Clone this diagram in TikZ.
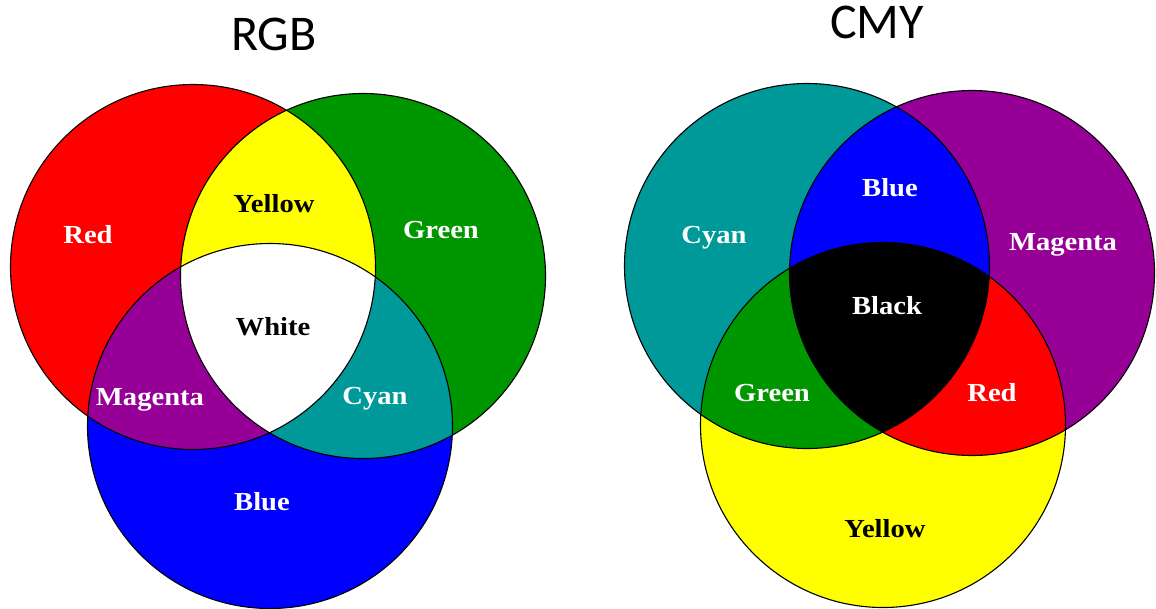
\documentclass[tikz,border=0pt]{standalone}
\usepackage{fontspec}
\setmainfont{Liberation Serif}
\newfontfamily\labelfont{Liberation Serif}[FakeStretch=1.1]
\newfontfamily\headfont{Carlito}
\usetikzlibrary{positioning}
\definecolor{pured}{RGB}{255,0,0}
\definecolor{pugreen}{RGB}{0,150,0}
\definecolor{publue}{RGB}{0,0,255}
\definecolor{puyellow}{RGB}{255,255,0}
\definecolor{pumagenta}{RGB}{150,0,150}
\definecolor{pucyan}{RGB}{0,153,153}

\begin{document}
\begin{tikzpicture}[x=1pt, y=-1pt,
  ring/.style={draw=black, line width=1.1pt},
  region/.style={font=\labelfont\bfseries\fontsize{26}{30}\selectfont, anchor=base, inner sep=0pt},
  onlight/.style={region, text=black},
  ondark/.style={region, text=white},
  heading/.style={font=\headfont\fontsize{50}{56}\selectfont, anchor=base, inner sep=0pt},
]
  \def\rad{182.5pt}
  \useasboundingbox (0,0) rectangle (1156,608);

  % centres
  \coordinate (rr) at (193,267);
  \coordinate (rg) at (363,276);
  \coordinate (rb) at (270,426);
  \coordinate (cc) at (807,266);
  \coordinate (cm) at (972,273);
  \coordinate (cy) at (883,425);

  % RGB
  \fill[pured] (rr) circle[radius=\rad];
  \fill[pugreen] (rg) circle[radius=\rad];
  \fill[publue] (rb) circle[radius=\rad];
  \begin{scope}
    \clip (rg) circle[radius=\rad];
    \fill[pucyan] (rb) circle[radius=\rad];
  \end{scope}
  \begin{scope}
    \clip (rr) circle[radius=\rad];
    \fill[puyellow] (rg) circle[radius=\rad];
    \fill[pumagenta] (rb) circle[radius=\rad];
    \clip (rg) circle[radius=\rad];
    \fill[white] (rb) circle[radius=\rad];
  \end{scope}
  \foreach \c in {rr,rg,rb}
    \draw[ring] (\c) circle[radius=\rad];

  % CMY
  \fill[pucyan] (cc) circle[radius=\rad];
  \fill[pumagenta] (cm) circle[radius=\rad];
  \fill[puyellow] (cy) circle[radius=\rad];
  \begin{scope}
    \clip (cm) circle[radius=\rad];
    \fill[pured] (cy) circle[radius=\rad];
  \end{scope}
  \begin{scope}
    \clip (cc) circle[radius=\rad];
    \fill[publue] (cm) circle[radius=\rad];
    \fill[pugreen] (cy) circle[radius=\rad];
    \clip (cm) circle[radius=\rad];
    \fill[black] (cy) circle[radius=\rad];
  \end{scope}
  \foreach \c in {cc,cm,cy}
    \draw[ring] (\c) circle[radius=\rad];

  % titles
  \node[heading] (rgbtitle) at (274,50) {RGB};
  \node[heading] (cmytitle) at (877,38) {CMY};

  % RGB labels
  \node[ondark] (lred) at (88,243) {Red};
  \node[onlight] (lyellow) at (274,212) {Yellow};
  \node[ondark] (lgreen) at (441,238) {Green};
  \node[onlight] (lwhite) at (273,335) {White};
  \node[ondark] (lmagenta) at (150,405) {Magenta};
  \node[ondark] (lcyan) at (375,404) {Cyan};
  \node[ondark] (lblue) at (262,510) {Blue};

  % CMY labels
  \node[ondark] (mcyan) at (714,243) {Cyan};
  \node[ondark] (mblue) at (890,196) {Blue};
  \node[ondark] (mmagenta) at (1063,250) {Magenta};
  \node[ondark] (mblack) at (887,314) {Black};
  \node[ondark] (mgreen) at (772,401) {Green};
  \node[ondark] (mred) at (992,401) {Red};
  \node[onlight] (myellow) at (885,537) {Yellow};
\end{tikzpicture}
\end{document}
